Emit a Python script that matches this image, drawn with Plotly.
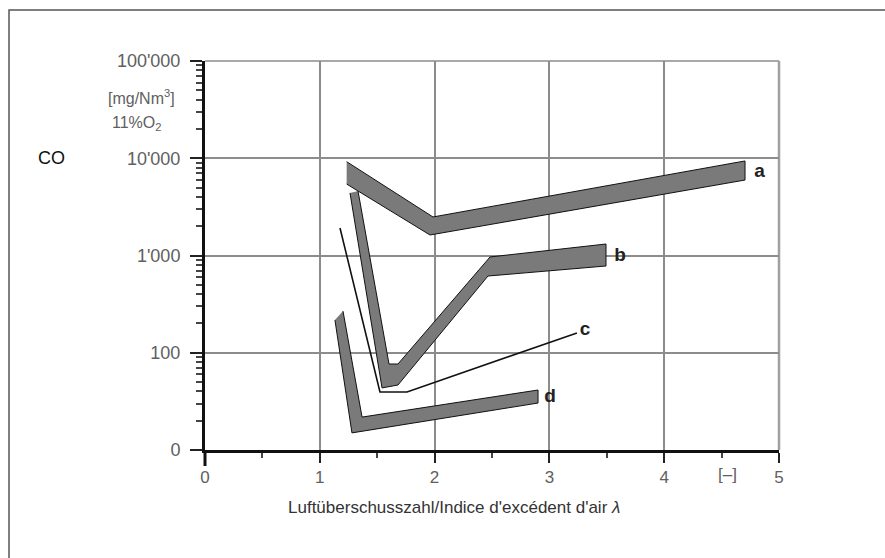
import numpy as np
import plotly.graph_objects as go

# Band polygons (lambda, CO mg/Nm3)
a_x = [1.234, 1.986, 4.704, 4.704, 1.96, 1.234]
a_y = [9220, 2490, 9380, 5970, 1625, 5430]

b_x = [1.263, 1.542, 1.681, 2.465, 3.493, 3.493, 2.483, 1.681, 1.603, 1.333]
b_y = [4400, 43.5, 46.6, 615, 780, 1313, 966, 76.6, 76.6, 4600]

c_x = [1.176, 1.524, 1.760, 3.240]
c_y = [1920, 39.5, 39.5, 160]

d_x = [1.132, 1.280, 2.901, 2.901, 1.368, 1.202]
d_y = [217, 15.0, 30.4, 41.4, 21.8, 268]

label_text = ["a", "b", "c", "d"]
label_x = [4.83, 3.615, 3.31, 3.005]
label_y = [7230, 990, 171, 35]

x_ticks = [0, 1, 2, 3, 4, 5]
x_ticktext = ["0", "1", "2", "3", "4", "5"]
y_ticks = [10, 100, 1000, 10000, 100000]
y_ticktext = ["0", "100", "1'000", "10'000", "100'000"]
y_minor = [k * 10 ** d for d in range(1, 5) for k in range(2, 10)]

FONT = "Liberation Sans, Arial, sans-serif"
FILL = "#7a7a7a"
TICKC = "#606060"

fig = go.Figure()
for xs, ys in [(a_x, a_y), (b_x, b_y), (d_x, d_y)]:
    fig.add_trace(go.Scatter(x=xs, y=ys, mode="lines", fill="toself",
                             fillcolor=FILL, line=dict(color="#111111", width=1),
                             hoverinfo="skip", showlegend=False))
fig.add_trace(go.Scatter(x=c_x, y=c_y, mode="lines",
                         line=dict(color="#111111", width=1.6),
                         hoverinfo="skip", showlegend=False))
fig.add_trace(go.Scatter(x=label_x, y=label_y, mode="text", text=label_text,
                         textfont=dict(family=FONT, size=19, color="#222222",
                                       weight="bold"),
                         textposition="middle center",
                         hoverinfo="skip", showlegend=False))

GRID = "#8c8c8c"
fig.update_xaxes(range=[0, 5], tickvals=x_ticks, ticktext=x_ticktext,
                 showgrid=True, gridcolor=GRID, gridwidth=1.5,
                 showline=True, linecolor="#111111", linewidth=3,
                 ticks="outside", ticklen=10, tickwidth=2, tickcolor="#222222",
                 tickfont=dict(family=FONT, size=17, color=TICKC),
                 minor=dict(tickvals=[0.5, 1.5, 2.5, 3.5, 4.5], ticks="outside",
                            ticklen=5, tickwidth=1.5, tickcolor="#444444",
                            showgrid=False),
                 zeroline=False, fixedrange=True)
fig.update_yaxes(type="log", range=[1, 5], tickvals=y_ticks, ticktext=y_ticktext,
                 showgrid=True, gridcolor=GRID, gridwidth=1.5,
                 showline=True, linecolor="#111111", linewidth=3,
                 ticks="outside", ticklen=12, tickwidth=2, tickcolor="#222222",
                 ticklabelstandoff=6,
                 tickfont=dict(family=FONT, size=18, color=TICKC),
                 minor=dict(tickvals=y_minor, ticks="outside", ticklen=6,
                            tickwidth=1.5, tickcolor="#444444", showgrid=False),
                 zeroline=False, fixedrange=True)

L, R, T, B = 205, 106, 61, 108
W, H = 885, 558
pw, ph = W - L - R, H - T - B


def px(xp):
    return (xp - L) / pw


def py(yp):
    return (H - B - yp) / ph


shapes = [
    # outer frame (right and bottom run off the picture)
    dict(type="rect", xref="paper", yref="paper", x0=px(9), x1=px(900),
         y0=py(575), y1=py(10), line=dict(color="#555555", width=1.5),
         fillcolor="rgba(0,0,0,0)", layer="below"),
    # plot area top and right border
    dict(type="line", xref="paper", yref="paper", x0=0, x1=1, y0=1, y1=1,
         line=dict(color=GRID, width=1.5), layer="below"),
    dict(type="line", xref="paper", yref="paper", x0=1, x1=1, y0=0, y1=1,
         line=dict(color="#a0a0a0", width=2.5), layer="below"),
    # y axis runs a little below the x axis
    dict(type="line", xref="paper", yref="paper", x0=0, x1=0, y0=py(466), y1=0,
         line=dict(color="#111111", width=3)),
]

annotations = [
    dict(text="CO", xref="paper", yref="paper", x=px(51), y=py(158),
         xanchor="center", yanchor="middle",
         showarrow=False, font=dict(family=FONT, size=18, color="#111111")),
    dict(text="[mg/Nm<sup>3</sup>]", xref="paper", yref="paper", x=px(141), y=py(97),
         xanchor="center", yanchor="middle",
         showarrow=False, font=dict(family=FONT, size=16, color=TICKC)),
    dict(text="11%O<sub>2</sub>", xref="paper", yref="paper", x=px(137), y=py(123),
         xanchor="center", yanchor="middle",
         showarrow=False, font=dict(family=FONT, size=16, color=TICKC)),
    dict(text="[–]", xref="paper", yref="paper", x=px(727), y=py(474),
         xanchor="center", yanchor="middle",
         showarrow=False, font=dict(family=FONT, size=17, color=TICKC)),
    dict(text="Luftüberschusszahl/Indice d'excédent d'air <i>λ</i>",
         xref="paper", yref="paper", x=px(454), y=py(507),
         xanchor="center", yanchor="middle",
         showarrow=False, font=dict(family=FONT, size=17, color="#333333")),
]

fig.update_layout(width=W, height=H, margin=dict(l=L, r=R, t=T, b=B),
                  plot_bgcolor="white", paper_bgcolor="white",
                  shapes=shapes, annotations=annotations, showlegend=False)

fig.write_html("out.html", config={"displayModeBar": False})
